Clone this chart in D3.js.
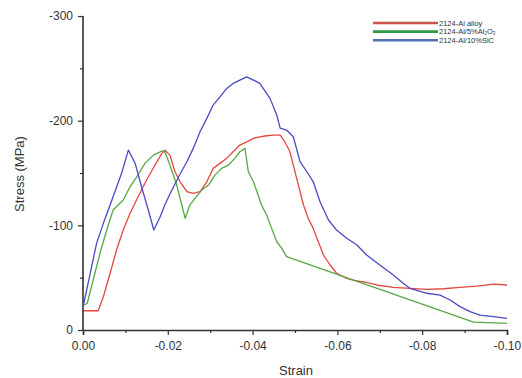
<!DOCTYPE html>
<html lang="en">
<head>
<meta charset="UTF-8">
<title>Stress strain</title>
<style>
  body { margin: 0; background: #fff; }
  text { font-family: "Liberation Sans", Arial, sans-serif; fill: #333; }
</style>
</head>
<body>
<div id="target"></div>
<script src="https://d3js.org/d3.v7.min.js"></script>
<script>
// values: [strain, stress MPa]
const alloy = [
  [0, -18.4], [-0.0036, -18.4], [-0.0048, -31.8], [-0.0064, -54.2], [-0.0079, -76.4],
  [-0.0095, -95.5], [-0.0111, -111.5], [-0.0130, -127.3], [-0.0150, -143.3], [-0.0170, -157.6],
  [-0.0186, -168.8], [-0.0193, -171.9], [-0.0205, -167.1], [-0.0217, -151.2], [-0.0229, -141.6],
  [-0.0245, -132.1], [-0.0260, -130.6], [-0.0276, -132.1], [-0.0292, -141.6], [-0.0307, -154.4],
  [-0.0323, -159.2], [-0.0339, -164.0], [-0.0354, -170.3], [-0.0370, -176.7], [-0.0386, -179.8],
  [-0.0402, -183.1], [-0.0417, -184.6], [-0.0433, -185.6], [-0.0449, -186.2], [-0.0465, -186.2],
  [-0.0476, -179.8], [-0.0488, -170.3], [-0.0496, -157.6], [-0.0508, -138.5], [-0.0520, -119.4],
  [-0.0531, -106.7], [-0.0543, -97.1], [-0.0555, -84.3], [-0.0567, -71.6], [-0.0583, -62.1],
  [-0.0598, -54.2], [-0.0622, -49.4], [-0.0646, -46.8], [-0.0669, -45.6], [-0.0693, -43.0],
  [-0.0732, -40.8], [-0.0771, -39.8], [-0.0811, -38.9], [-0.0850, -39.4], [-0.0889, -40.8],
  [-0.0929, -42.0], [-0.0968, -43.9], [-0.1000, -43.0]
];
const alumina = [
  [-0.0002, -23.9], [-0.0010, -25.5], [-0.0024, -47.8], [-0.0040, -73.3], [-0.0056, -95.5],
  [-0.0071, -114.6], [-0.0083, -119.4], [-0.0095, -124.2], [-0.0111, -136.9], [-0.0127, -146.4],
  [-0.0146, -159.2], [-0.0166, -167.1], [-0.0186, -171.0], [-0.0193, -170.3], [-0.0205, -157.6],
  [-0.0221, -138.5], [-0.0233, -119.4], [-0.0241, -106.7], [-0.0252, -119.4], [-0.0264, -125.8],
  [-0.0280, -133.7], [-0.0296, -138.5], [-0.0311, -148.0], [-0.0327, -154.4], [-0.0343, -157.6],
  [-0.0358, -164.0], [-0.0370, -170.3], [-0.0382, -173.5], [-0.0390, -151.2], [-0.0402, -141.6],
  [-0.0413, -128.9], [-0.0421, -119.4], [-0.0433, -109.8], [-0.0445, -97.1], [-0.0457, -84.3],
  [-0.0469, -78.0], [-0.0480, -70.0], [-0.0921, -7.6], [-0.1000, -6.4]
];
const sic = [
  [-0.0002, -25.5], [-0.0017, -54.2], [-0.0032, -82.8], [-0.0048, -101.9], [-0.0071, -127.3],
  [-0.0091, -149.7], [-0.0107, -171.9], [-0.0123, -159.2], [-0.0138, -136.9], [-0.0154, -114.6],
  [-0.0167, -95.5], [-0.0182, -108.2], [-0.0193, -119.4], [-0.0205, -129.9], [-0.0229, -149.0],
  [-0.0245, -160.7], [-0.0260, -173.5], [-0.0276, -189.4], [-0.0292, -202.2], [-0.0307, -214.9],
  [-0.0323, -222.8], [-0.0339, -230.8], [-0.0354, -235.6], [-0.0370, -238.8], [-0.0386, -241.9],
  [-0.0402, -238.8], [-0.0417, -235.6], [-0.0433, -226.1], [-0.0441, -221.3], [-0.0457, -205.3],
  [-0.0465, -192.9], [-0.0480, -191.0], [-0.0496, -184.6], [-0.0512, -160.7], [-0.0528, -151.2],
  [-0.0543, -141.6], [-0.0559, -122.5], [-0.0579, -105.1], [-0.0598, -95.5], [-0.0622, -87.6],
  [-0.0646, -81.2], [-0.0669, -71.6], [-0.0700, -62.1], [-0.0732, -52.5], [-0.0755, -44.6],
  [-0.0771, -39.8], [-0.0811, -35.1], [-0.0842, -33.4], [-0.0866, -28.7], [-0.0889, -22.3],
  [-0.0913, -17.5], [-0.0936, -14.3], [-0.0968, -12.7], [-0.1000, -11.2]
];

const seriesNames = ["2124-Al  alloy", "2124-Al/5%Al2O3", "2124-Al/10%SiC"];
const xTicks = [0, -0.02, -0.04, -0.06, -0.08, -0.10];
const xMinor = [-0.01, -0.03, -0.05, -0.07, -0.09];
const yTicks = [0, -100, -200, -300];
const yMinor = [-50, -150, -250];

const width = 522, height = 378;
const lineColors = ["#e4473d", "#55a844", "#4a4ac6"];
const legendColors = ["#c9514c", "#2f9a48", "#4f71b3"];

const svg = d3.select("#target").append("svg")
  .attr("width", width).attr("height", height);

const x = d3.scaleLinear().domain([0, -0.1]).range([83, 507]);
const y = d3.scaleLinear().domain([0, -300]).range([330, 16]);

const line = d3.line().x(d => x(d[0])).y(d => y(d[1]));

const data = [alloy, alumina, sic];
svg.append("g").selectAll("path")
  .data(data)
  .join("path")
  .attr("d", line)
  .attr("fill", "none")
  .attr("stroke", (d, i) => lineColors[i])
  .attr("stroke-width", 1.3)
  .attr("stroke-linejoin", "round");

// axes
const xAxis = svg.append("g").attr("transform", "translate(0,330)")
  .call(d3.axisBottom(x).tickValues(xTicks).tickSize(5).tickPadding(6)
    .tickFormat(d => d.toFixed(2)));
svg.append("g").attr("transform", "translate(0,330)")
  .call(d3.axisBottom(x).tickValues(xMinor).tickSize(3).tickFormat(""))
  .select(".domain").remove();

const yAxis = svg.append("g").attr("transform", "translate(83,0)")
  .call(d3.axisLeft(y).tickValues(yTicks).tickSize(5).tickPadding(5)
    .tickFormat(d => String(d)));
svg.append("g").attr("transform", "translate(83,0)")
  .call(d3.axisLeft(y).tickValues(yMinor).tickSize(3).tickFormat(""))
  .select(".domain").remove();

svg.selectAll(".domain").attr("stroke", "#333").attr("stroke-width", 1.6);
svg.selectAll(".tick line").attr("stroke", "#333").attr("stroke-width", 1.2);
svg.selectAll(".tick text")
  .style("font-family", '"Liberation Sans", Arial, sans-serif')
  .style("font-size", "12px").attr("fill", "#2a2a2a");
yAxis.selectAll(".domain").attr("d", "M0,330V16");

// axis titles
svg.append("text").attr("x", 296).attr("y", 375)
  .attr("text-anchor", "middle").style("font-size", "13px").text("Strain");
svg.append("text").attr("transform", "translate(24,174) rotate(-90)")
  .attr("text-anchor", "middle").style("font-size", "13px").text("Stress (MPa)");

// legend
const leg = svg.append("g").attr("transform", "translate(373,23)");
const rows = leg.selectAll("g").data(seriesNames).join("g")
  .attr("transform", (d, i) => `translate(0,${i * 8.6})`);
rows.append("line").attr("x1", 0).attr("x2", 65)
  .attr("stroke", (d, i) => legendColors[i]).attr("stroke-width", 2.6);
const lt = rows.append("text").attr("x", 66).attr("y", 2.6)
  .style("font-size", "7.5px").attr("fill", "#444");
lt.each(function (d) {
  const t = d3.select(this);
  const m = d.match(/^(.*Al)2O3$/);
  if (m) {
    t.append("tspan").text(m[1]);
    t.append("tspan").attr("dy", 1.2).style("font-size", "4.5px").text("2");
    t.append("tspan").attr("dy", -1.2).text("O");
    t.append("tspan").attr("dy", 1.2).style("font-size", "4.5px").text("3");
  } else {
    t.text(d);
  }
});
</script>
</body>
</html>
